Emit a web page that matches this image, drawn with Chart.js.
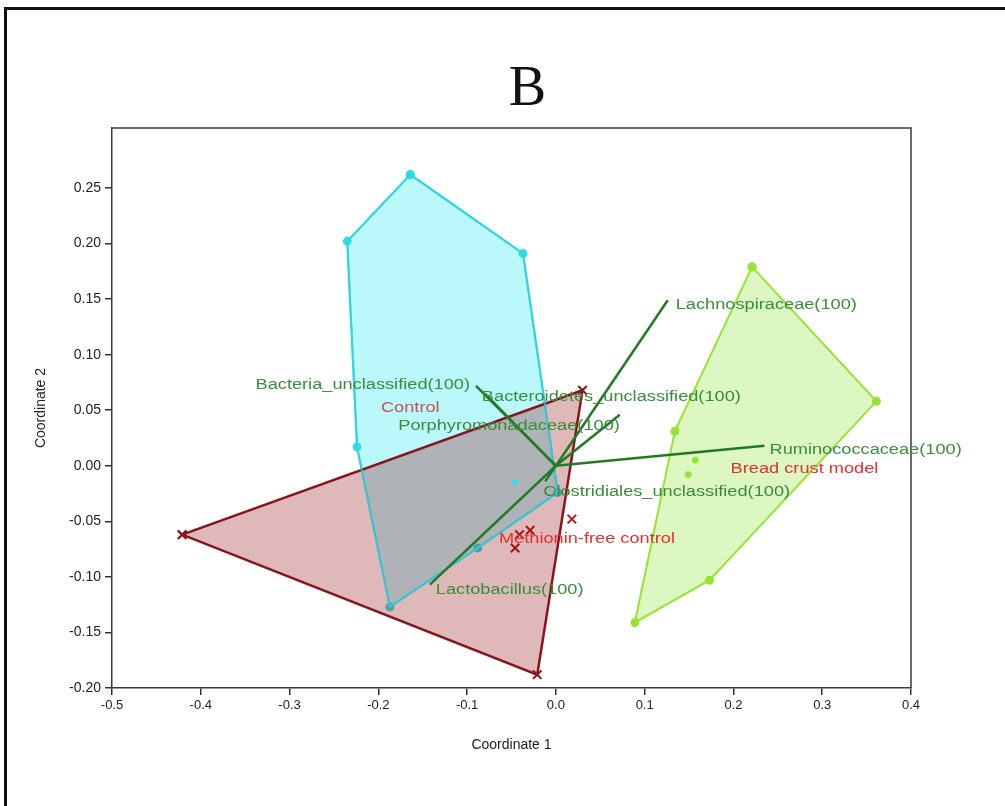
<!DOCTYPE html>
<html>
<head>
<meta charset="utf-8">
<script src="https://cdn.jsdelivr.net/npm/chart.js@4.4.0/dist/chart.umd.min.js"></script>
<style>
  html, body { margin: 0; padding: 0; background: #fff; }
  #wrap { position: relative; width: 1005px; height: 806px; overflow: hidden; }
  #frame { position: absolute; left: 4px; top: 7px; width: 1010px; height: 820px; border-top: 3px solid #111; border-left: 3px solid #111; box-sizing: border-box; pointer-events: none; }
  canvas { position: absolute; left: 0; top: 0; }
</style>
</head>
<body>
<div id="wrap">
  <canvas id="pcoChart" width="1005" height="806"></canvas>
  <div id="frame"></div>
</div>
<script>
// hull vertices + inner points for each group (Coordinate 1 / Coordinate 2)
const controlX = [-0.164, -0.037, 0.002, -0.088, -0.187, -0.224, -0.235]
const controlY = [0.262, 0.191, -0.024, -0.074, -0.127, 0.017, 0.202]
const controlInX = [-0.046]
const controlInY = [-0.015]

const methX = [-0.421, 0.030, -0.021]
const methY = [-0.062, 0.068, -0.188]
const methInX = [0.018, -0.041, -0.029, -0.046]
const methInY = [-0.048, -0.062, -0.058, -0.074]

const breadX = [0.221, 0.361, 0.173, 0.089, 0.134]
const breadY = [0.179, 0.058, -0.103, -0.141, 0.031]
const breadInX = [0.157, 0.149]
const breadInY = [0.005, -0.008]

// group names and where their labels sit
const groups = ['Control', 'Methionin-free control', 'Bread crust model']
const groupX = [-0.164, 0.035, 0.280]
const groupY = [0.052, -0.066, -0.003]

// biplot vectors
const taxa = ['Lachnospiraceae(100)', 'Bacteria_unclassified(100)', 'Bacteroidetes_unclassified(100)',
    'Porphyromonadaceae(100)', 'Ruminococcaceae(100)', 'Clostridiales_unclassified(100)', 'Lactobacillus(100)']
const taxaX = [0.126, -0.090, -0.080, 0.072, 0.235, -0.012, -0.142]
const taxaY = [0.149, 0.072, 0.065, 0.046, 0.018, -0.014, -0.107]

const xTicks = [-0.5, -0.4, -0.3, -0.2, -0.1, 0.0, 0.1, 0.2, 0.3, 0.4]
const yTicks = [-0.20, -0.15, -0.10, -0.05, 0.00, 0.05, 0.10, 0.15, 0.20, 0.25]

// label placement for the vectors: [dx, dy, align] in pixels from the tip
const taxaLabelPos = [
    [8, 5, 'left'], [-6, -1, 'right'], [-3, 4, 'left'], [0, 11, 'right'],
    [5, 4, 'left'], [-2, 11, 'left'], [6, 5, 'left']
]

const toPoints = (xs, ys, close) => {
    let pts = xs.map((x, i) => ({ x: x, y: ys[i] }))
    if (close) pts.push({ x: xs[0], y: ys[0] })
    return pts
}

const cyanLine = 'rgb(45,222,226)'
const redLine = 'rgb(135,22,30)'
const greenLine = 'rgb(150,228,50)'
const vectorColor = 'rgb(34,122,38)'

let vectorSets = taxa.map((name, i) => ({
    label: name,
    data: [{ x: 0, y: 0 }, { x: taxaX[i], y: taxaY[i] }],
    showLine: true,
    borderColor: vectorColor,
    borderWidth: 2.5,
    pointRadius: 0,
    fill: false,
    order: 0
}))

let datasets = [
    ...vectorSets,
    {
        label: 'Methionin-free control hull',
        data: toPoints(methX, methY, true),
        showLine: true,
        fill: 'shape',
        backgroundColor: 'rgba(150,20,25,0.3)',
        borderColor: redLine,
        borderWidth: 2.5,
        pointStyle: 'crossRot',
        pointRadius: 6,
        pointBorderWidth: 2,
        pointBorderColor: redLine,
        order: 2
    },
    {
        label: 'Methionin-free control',
        data: toPoints(methInX, methInY, false),
        pointStyle: 'crossRot',
        pointRadius: 6,
        pointBorderWidth: 2,
        pointBorderColor: 'rgb(170,25,30)',
        order: 2
    },
    {
        // outline again on top so the cyan edges show through the red hull
        label: 'Control outline',
        data: toPoints(controlX, controlY, true),
        showLine: true,
        fill: false,
        borderColor: 'rgba(45,210,226,0.8)',
        borderWidth: 2,
        pointRadius: 0,
        order: 1
    },
    {
        label: 'Control hull',
        data: toPoints(controlX, controlY, true),
        showLine: true,
        fill: 'shape',
        backgroundColor: 'rgba(0,228,240,0.27)',
        borderColor: cyanLine,
        borderWidth: 2,
        pointRadius: 3.5,
        pointBackgroundColor: cyanLine,
        pointBorderColor: cyanLine,
        order: 3
    },
    {
        label: 'Control',
        data: toPoints(controlInX, controlInY, false),
        pointStyle: 'triangle',
        rotation: 180,
        pointRadius: 4,
        pointBackgroundColor: cyanLine,
        pointBorderColor: cyanLine,
        order: 1
    },
    {
        label: 'Bread crust hull',
        data: toPoints(breadX, breadY, true),
        showLine: true,
        fill: 'shape',
        backgroundColor: 'rgba(140,230,50,0.3)',
        borderColor: greenLine,
        borderWidth: 2,
        pointRadius: 3.5,
        pointBackgroundColor: greenLine,
        pointBorderColor: greenLine,
        order: 4
    },
    {
        label: 'Bread crust model',
        data: toPoints(breadInX, breadInY, false),
        pointRadius: 3,
        pointBackgroundColor: greenLine,
        pointBorderColor: greenLine,
        order: 4
    }
]

// the original's text is drawn wide, so stretch it horizontally
const wideText = (c, text, x, y, stretch) => {
    c.save()
    c.translate(x, y)
    c.scale(stretch, 1)
    c.fillText(text, 0, 0)
    c.restore()
}

// title, box, axis titles and all in-plot text
const textPlugin = {
    id: 'pcoText',
    afterDatasetsDraw(chart) {
        const c = chart.ctx
        const a = chart.chartArea
        const sx = chart.scales.x
        const sy = chart.scales.y
        c.save()
        c.strokeStyle = '#3a3a3a'
        c.lineWidth = 1.5
        c.beginPath()
        c.moveTo(a.left, a.top)
        c.lineTo(a.right, a.top)
        c.lineTo(a.right, a.bottom)
        c.stroke()

        c.textBaseline = 'middle'
        c.font = '14px "Liberation Sans", Arial, sans-serif'
        taxa.forEach((name, i) => {
            const p = taxaLabelPos[i]
            c.fillStyle = 'rgb(58,140,58)'
            c.textAlign = p[2]
            wideText(c, name, sx.getPixelForValue(taxaX[i]) + p[0], sy.getPixelForValue(taxaY[i]) + p[1], 1.3)
        })
        const groupColors = ['rgb(196,84,84)', 'rgb(232,48,48)', 'rgb(228,48,48)']
        groups.forEach((name, i) => {
            c.fillStyle = groupColors[i]
            c.textAlign = 'center'
            wideText(c, name, sx.getPixelForValue(groupX[i]), sy.getPixelForValue(groupY[i]), 1.3)
        })

        c.fillStyle = '#111'
        c.textAlign = 'center'
        c.font = '56px "Liberation Serif", "Times New Roman", serif'
        c.fillText('B', (a.left + a.right) / 2 + 16, 90)

        c.fillStyle = '#222'
        c.font = '14px "Liberation Sans", Arial, sans-serif'
        c.fillText('Coordinate 1', (a.left + a.right) / 2, 745)
        c.translate(41, (a.top + a.bottom) / 2)
        c.rotate(-Math.PI / 2)
        c.fillText('Coordinate 2', 0, 0)
        c.restore()
    }
}

const ctx = document.getElementById('pcoChart')

new Chart(ctx, {
    type: 'scatter',
    data: { datasets: datasets },
    options: {
        responsive: false,
        animation: false,
        layout: { padding: { top: 128, right: 94, bottom: 0, left: 0 } },
        plugins: {
            legend: { display: false },
            tooltip: { enabled: false }
        },
        scales: {
            x: {
                min: -0.5,
                max: 0.4,
                afterFit: (scale) => { scale.height = 118 },
                afterBuildTicks: (axis) => { axis.ticks = xTicks.map(v => ({ value: v })) },
                grid: { drawOnChartArea: false, color: '#333', tickLength: 7, lineWidth: 1.5 },
                border: { color: '#3a3a3a', width: 1.5 },
                ticks: {
                    color: '#222',
                    padding: 3,
                    maxRotation: 0,
                    font: { family: '"Liberation Sans", Arial, sans-serif', size: 13 },
                    callback: (v) => (Math.abs(v) < 1e-9 ? 0 : v).toFixed(1)
                }
            },
            y: {
                min: -0.2,
                max: 0.304,
                afterFit: (scale) => { scale.width = 112 },
                afterBuildTicks: (axis) => { axis.ticks = yTicks.map(v => ({ value: v })) },
                grid: { drawOnChartArea: false, color: '#333', tickLength: 7, lineWidth: 1.5 },
                border: { color: '#3a3a3a', width: 1.5 },
                ticks: {
                    color: '#222',
                    padding: 4,
                    font: { family: '"Liberation Sans", Arial, sans-serif', size: 14 },
                    callback: (v) => (Math.abs(v) < 1e-9 ? 0 : v).toFixed(2)
                }
            }
        }
    },
    plugins: [textPlugin]
})
</script>
</body>
</html>
